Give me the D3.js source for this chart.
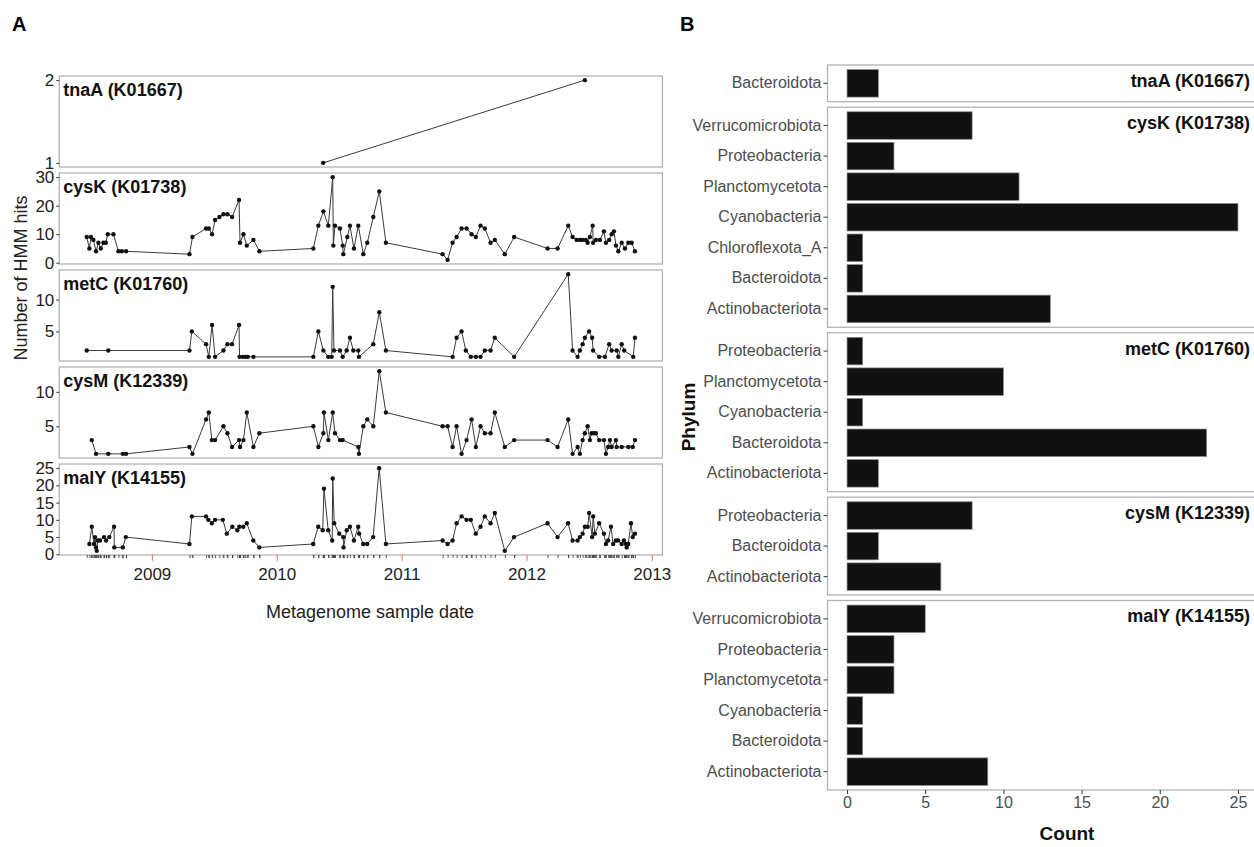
<!DOCTYPE html>
<html>
<head>
<meta charset="utf-8">
<script src="https://cdn.jsdelivr.net/npm/d3@7/dist/d3.min.js"></script>
<style>
body { margin: 0; background: #fff; }
text { font-family: "Liberation Sans", Arial, sans-serif; }
</style>
</head>
<body>
<svg width="1254" height="847"></svg>
<script>
var genes = ["tnaA (K01667)", "cysK (K01738)", "metC (K01760)", "cysM (K12339)", "malY (K14155)"]

// panel A: [sample date as decimal year, number of HMM hits]
var tnaA = [[2010.372, 1], [2012.466, 2]]
var cysK = [[2008.480, 9], [2008.501, 5], [2008.514, 9], [2008.533, 8], [2008.554, 4], [2008.573, 7], [2008.592, 5], [2008.613, 7], [2008.632, 7], [2008.648, 10], [2008.693, 10], [2008.733, 4], [2008.760, 4], [2008.794, 4],
    [2009.301, 3], [2009.325, 9], [2009.434, 12], [2009.456, 12], [2009.482, 10], [2009.506, 15], [2009.541, 16], [2009.573, 17], [2009.605, 17], [2009.642, 16], [2009.698, 22], [2009.706, 7], [2009.733, 10], [2009.760, 6], [2009.813, 8], [2009.861, 4],
    [2010.293, 5], [2010.333, 13], [2010.373, 18], [2010.413, 13], [2010.448, 30], [2010.453, 6], [2010.466, 13], [2010.506, 12], [2010.528, 6], [2010.533, 3], [2010.565, 9], [2010.586, 13], [2010.618, 5], [2010.653, 13], [2010.693, 3], [2010.725, 7], [2010.773, 16], [2010.821, 25], [2010.874, 7],
    [2011.328, 3], [2011.368, 1], [2011.408, 7], [2011.440, 9], [2011.480, 12], [2011.520, 12], [2011.560, 10], [2011.594, 9], [2011.632, 13], [2011.666, 12], [2011.712, 7], [2011.746, 8], [2011.826, 3], [2011.901, 9],
    [2012.168, 5], [2012.248, 5], [2012.333, 13], [2012.368, 9], [2012.400, 8], [2012.426, 8], [2012.448, 8], [2012.474, 8], [2012.488, 7], [2012.506, 9], [2012.528, 13], [2012.532, 7], [2012.554, 8], [2012.586, 8], [2012.618, 11], [2012.634, 7], [2012.660, 8], [2012.680, 10], [2012.698, 11], [2012.714, 6], [2012.733, 4], [2012.760, 7], [2012.786, 5], [2012.813, 7], [2012.840, 7], [2012.866, 4]]
var metC = [[2008.480, 2], [2008.652, 2],
    [2009.301, 2], [2009.320, 5], [2009.434, 3], [2009.456, 1], [2009.482, 6], [2009.506, 1], [2009.573, 2], [2009.605, 3], [2009.642, 3], [2009.698, 6], [2009.702, 1], [2009.728, 1], [2009.748, 1], [2009.768, 1], [2009.813, 1],
    [2010.293, 1], [2010.333, 5], [2010.373, 2], [2010.413, 1], [2010.440, 1], [2010.448, 12], [2010.458, 2], [2010.506, 2], [2010.528, 1], [2010.560, 2], [2010.586, 4], [2010.613, 2], [2010.653, 2], [2010.658, 1], [2010.773, 3], [2010.821, 8], [2010.874, 2],
    [2011.408, 1], [2011.440, 4], [2011.480, 5], [2011.514, 2], [2011.554, 1], [2011.594, 1], [2011.632, 1], [2011.666, 2], [2011.712, 2], [2011.746, 4], [2011.901, 1],
    [2012.333, 14], [2012.368, 2], [2012.408, 1], [2012.426, 2], [2012.448, 3], [2012.466, 4], [2012.500, 5], [2012.524, 4], [2012.532, 2], [2012.580, 1], [2012.626, 1], [2012.660, 3], [2012.680, 2], [2012.720, 2], [2012.733, 1], [2012.760, 3], [2012.780, 2], [2012.852, 1], [2012.866, 4]]
var cysM = [[2008.520, 3], [2008.554, 1], [2008.652, 1], [2008.768, 1], [2008.794, 1],
    [2009.301, 2], [2009.325, 1], [2009.434, 6], [2009.456, 7], [2009.480, 3], [2009.506, 3], [2009.573, 5], [2009.605, 4], [2009.642, 2], [2009.698, 3], [2009.706, 2], [2009.733, 3], [2009.760, 7], [2009.813, 2], [2009.861, 4],
    [2010.293, 5], [2010.333, 2], [2010.373, 4], [2010.378, 7], [2010.413, 3], [2010.448, 7], [2010.466, 4], [2010.506, 3], [2010.528, 3], [2010.653, 2], [2010.658, 1], [2010.693, 5], [2010.725, 6], [2010.773, 5], [2010.821, 13], [2010.874, 7],
    [2011.328, 5], [2011.368, 5], [2011.408, 2], [2011.440, 5], [2011.480, 1], [2011.520, 3], [2011.560, 6], [2011.594, 2], [2011.632, 5], [2011.666, 4], [2011.712, 4], [2011.746, 7], [2011.826, 2], [2011.901, 3],
    [2012.168, 3], [2012.248, 2], [2012.333, 6], [2012.368, 1], [2012.408, 2], [2012.426, 1], [2012.448, 3], [2012.466, 4], [2012.488, 5], [2012.506, 3], [2012.520, 4], [2012.538, 4], [2012.554, 4], [2012.580, 3], [2012.618, 3], [2012.634, 1], [2012.652, 2], [2012.666, 3], [2012.680, 2], [2012.714, 3], [2012.720, 2], [2012.760, 2], [2012.813, 2], [2012.848, 2], [2012.866, 3]]
var malY = [[2008.501, 3], [2008.520, 8], [2008.538, 3], [2008.546, 5], [2008.554, 2], [2008.560, 1], [2008.568, 4], [2008.586, 4], [2008.618, 5], [2008.634, 4], [2008.660, 5], [2008.698, 8], [2008.700, 2], [2008.768, 2], [2008.792, 5],
    [2009.301, 3], [2009.320, 11], [2009.434, 11], [2009.452, 10], [2009.480, 9], [2009.506, 10], [2009.568, 10], [2009.600, 6], [2009.644, 8], [2009.684, 7], [2009.700, 8], [2009.732, 8], [2009.760, 9], [2009.812, 4], [2009.860, 2],
    [2010.292, 3], [2010.332, 8], [2010.368, 7], [2010.378, 19], [2010.412, 7], [2010.444, 4], [2010.448, 22], [2010.460, 9], [2010.500, 6], [2010.532, 5], [2010.535, 2], [2010.560, 7], [2010.586, 8], [2010.618, 4], [2010.652, 8], [2010.660, 6], [2010.692, 3], [2010.724, 3], [2010.772, 5], [2010.820, 25], [2010.874, 3],
    [2011.328, 4], [2011.368, 3], [2011.408, 4], [2011.440, 9], [2011.480, 11], [2011.520, 10], [2011.554, 10], [2011.594, 6], [2011.632, 8], [2011.666, 11], [2011.712, 9], [2011.746, 12], [2011.826, 1], [2011.900, 5],
    [2012.168, 9], [2012.248, 5], [2012.332, 9], [2012.368, 4], [2012.408, 4], [2012.426, 5], [2012.448, 6], [2012.466, 8], [2012.488, 8], [2012.500, 12], [2012.524, 5], [2012.532, 11], [2012.546, 6], [2012.580, 9], [2012.618, 6], [2012.634, 3], [2012.652, 4], [2012.674, 8], [2012.692, 3], [2012.714, 4], [2012.732, 4], [2012.760, 3], [2012.778, 4], [2012.794, 3], [2012.800, 2], [2012.812, 3], [2012.834, 9], [2012.848, 5], [2012.866, 6]]

var tnaA_ticks = [1, 2]
var cysK_ticks = [0, 10, 20, 30]
var metC_ticks = [5, 10]
var cysM_ticks = [5, 10]
var malY_ticks = [0, 5, 10, 15, 20, 25]
var countTicks = [0, 5, 10, 15, 20, 25]

// panel B: phyla per gene, top to bottom, and counts
var tnaA_phyla = ["Bacteroidota"]
var tnaA_counts = [2]
var cysK_phyla = ["Verrucomicrobiota", "Proteobacteria", "Planctomycetota", "Cyanobacteria", "Chloroflexota_A", "Bacteroidota", "Actinobacteriota"]
var cysK_counts = [8, 3, 11, 25, 1, 1, 13]
var metC_phyla = ["Proteobacteria", "Planctomycetota", "Cyanobacteria", "Bacteroidota", "Actinobacteriota"]
var metC_counts = [1, 10, 1, 23, 2]
var cysM_phyla = ["Proteobacteria", "Bacteroidota", "Actinobacteriota"]
var cysM_counts = [8, 2, 6]
var malY_phyla = ["Verrucomicrobiota", "Proteobacteria", "Planctomycetota", "Cyanobacteria", "Bacteroidota", "Actinobacteriota"]
var malY_counts = [5, 3, 3, 1, 1, 9]

var seriesA = [
    {pts: tnaA, ticks: tnaA_ticks},
    {pts: cysK, ticks: cysK_ticks},
    {pts: metC, ticks: metC_ticks},
    {pts: cysM, ticks: cysM_ticks},
    {pts: malY, ticks: malY_ticks}
]
var seriesB = [
    {phyla: tnaA_phyla, counts: tnaA_counts},
    {phyla: cysK_phyla, counts: cysK_counts},
    {phyla: metC_phyla, counts: metC_counts},
    {phyla: cysM_phyla, counts: cysM_counts},
    {phyla: malY_phyla, counts: malY_counts}
]

var svg = d3.select("svg")
var border = "#b3b3b3"

function toDate(y) {
    var yr = Math.floor(y), a = new Date(yr, 0, 1), b = new Date(yr + 1, 0, 1)
    return new Date(+a + (y - yr) * (b - a))
}

function styleAxis(g, size, fill) {
    g.select(".domain").remove()
    g.selectAll(".tick line").attr("stroke", "#333")
    g.selectAll(".tick text").attr("font-size", size).attr("fill", fill)
        .attr("font-family", '"Liberation Sans", Arial, sans-serif')
}

// ---------- panel A ----------
var A = {left: 59.3, right: 662.4, top: 76, h: 91, gap: 6}

var allYears = [].concat.apply([], seriesA.map(s => s.pts.map(p => p[0])))
var ext = d3.extent(allYears), xpad = (ext[1] - ext[0]) * 0.05
var x = d3.scaleTime()
    .domain([toDate(ext[0] - xpad), toDate(ext[1] + xpad)])
    .range([A.left, A.right])

var line = d3.line()

seriesA.forEach(function(s, i) {
    var top = A.top + i * (A.h + A.gap)
    var e = d3.extent(s.pts, p => p[1]), pad = (e[1] - e[0]) * 0.05
    var y = d3.scaleLinear().domain([e[0] - pad, e[1] + pad]).range([top + A.h, top])
    var g = svg.append("g")

    g.append("rect").attr("x", A.left).attr("y", top)
        .attr("width", A.right - A.left).attr("height", A.h)
        .attr("fill", "none").attr("stroke", border).attr("stroke-width", 1.3)

    g.append("g").attr("transform", "translate(" + A.left + ",0)")
        .call(d3.axisLeft(y).tickValues(s.ticks).tickFormat(d3.format("d")).tickSize(3).tickPadding(2))
        .call(ax => styleAxis(ax, "17px", "#222"))

    var xy = s.pts.map(p => [x(toDate(p[0])), y(p[1])])
    g.append("path").attr("d", line(xy)).attr("fill", "none")
        .attr("stroke", "#3a3a3a").attr("stroke-width", 1)
    g.selectAll("circle").data(xy).enter().append("circle")
        .attr("cx", d => d[0]).attr("cy", d => d[1]).attr("r", 2.2).attr("fill", "#111")

    g.append("text").attr("x", A.left + 4).attr("y", top + 19.5)
        .attr("font-size", "18px").attr("font-weight", "bold").attr("fill", "#111")
        .text(genes[i])
})

// x axis: sample-date rug and year ticks under the last panel
var axisY = A.top + 5 * A.h + 4 * A.gap
var sampleDates = Array.from(new Set(allYears)).map(toDate)
svg.append("g").attr("transform", "translate(0," + axisY + ")")
    .call(d3.axisBottom(x).tickValues(sampleDates).tickSize(3).tickFormat(""))
    .call(ax => { ax.select(".domain").remove(); ax.selectAll(".tick line").attr("stroke", "#333").attr("stroke-width", 0.8) })
svg.append("g").attr("transform", "translate(0," + axisY + ")")
    .call(d3.axisBottom(x).ticks(d3.timeYear.every(1)).tickFormat(d3.timeFormat("%Y")).tickSize(6).tickPadding(7))
    .call(ax => styleAxis(ax, "17px", "#222"))
    .call(ax => ax.selectAll(".tick line").attr("stroke", "#e07070"))

svg.append("text").attr("x", 370).attr("y", 618).attr("text-anchor", "middle")
    .attr("font-size", "18px").attr("fill", "#222").text("Metagenome sample date")
svg.append("text").attr("transform", "translate(27,278) rotate(-90)").attr("text-anchor", "middle")
    .attr("font-size", "18px").attr("fill", "#222").text("Number of HMM hits")

// ---------- panel B ----------
var B = {left: 827.5, right: 1257.5, top: 65, bottom: 790, gap: 5.5}
var maxCount = d3.max(seriesB, s => d3.max(s.counts))
var xb = d3.scaleLinear().domain([-maxCount * 0.05, maxCount * 1.05]).range([B.left, B.right])
var units = d3.sum(seriesB, s => s.phyla.length + 0.2)
var unit = (B.bottom - B.top - B.gap * (seriesB.length - 1)) / units

var yTop = B.top
seriesB.forEach(function(s, i) {
    var hh = (s.phyla.length + 0.2) * unit
    var yb = d3.scaleBand().domain(s.phyla).range([yTop, yTop + hh])
        .paddingInner(0.1).paddingOuter(0.15)
    var g = svg.append("g")

    g.append("rect").attr("x", B.left).attr("y", yTop)
        .attr("width", B.right - B.left).attr("height", hh)
        .attr("fill", "none").attr("stroke", border).attr("stroke-width", 1.3)

    g.selectAll(".bar").data(s.phyla).enter().append("rect")
        .attr("x", xb(0)).attr("y", d => yb(d))
        .attr("width", (d, j) => xb(s.counts[j]) - xb(0)).attr("height", yb.bandwidth())
        .attr("fill", "#111").attr("stroke", "#8a8a8a").attr("stroke-width", 0.7)

    g.append("g").attr("transform", "translate(" + B.left + ",0)")
        .call(d3.axisLeft(yb).tickSize(4).tickPadding(2))
        .call(ax => styleAxis(ax, "16px", "#4d4d4d"))

    g.append("text").attr("x", 1250).attr("y", yTop + 22).attr("text-anchor", "end")
        .attr("font-size", "18px").attr("font-weight", "bold").attr("fill", "#111")
        .text(genes[i])

    yTop += hh + B.gap
})

svg.append("g").attr("transform", "translate(0," + B.bottom + ")")
    .call(d3.axisBottom(xb).tickValues(countTicks).tickSize(4).tickPadding(3))
    .call(ax => styleAxis(ax, "16px", "#4d4d4d"))

svg.append("text").attr("x", 1067).attr("y", 840).attr("text-anchor", "middle")
    .attr("font-size", "19px").attr("font-weight", "bold").attr("fill", "#111").text("Count")
svg.append("text").attr("transform", "translate(695,417) rotate(-90)").attr("text-anchor", "middle")
    .attr("font-size", "19px").attr("font-weight", "bold").attr("fill", "#111").text("Phylum")

svg.append("text").attr("x", 12).attr("y", 31).attr("font-size", "20px").attr("font-weight", "bold").text("A")
svg.append("text").attr("x", 680).attr("y", 31).attr("font-size", "20px").attr("font-weight", "bold").text("B")
</script>
</body>
</html>
